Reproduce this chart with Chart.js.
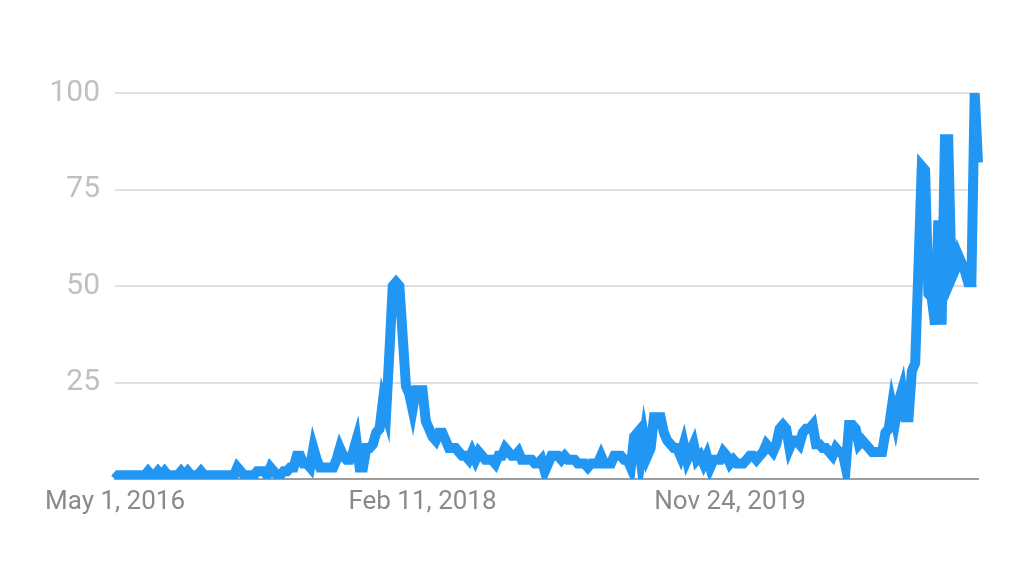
<!DOCTYPE html>
<html>
<head>
<meta charset="utf-8">
<script src="https://cdn.jsdelivr.net/npm/chart.js@4"></script>
<style>
  html, body { margin: 0; padding: 0; background: #fff; }
  #wrap { width: 1024px; height: 588px; }
</style>
</head>
<body>
<div id="wrap"><canvas id="myChart" width="1024" height="588"></canvas></div>
<script>
// weekly interest, starting week of May 1, 2016
let interest = [
  0, 1, 1, 1, 1, 1, 1, 1, 1, 1,
  2, 1, 1, 2, 1, 2, 1, 1, 1, 1,
  2, 1, 2, 1, 1, 1, 2, 1, 1, 1,
  1, 1, 1, 1, 1, 1, 1, 3, 2, 1,
  1, 1, 1, 2, 2, 2, 1, 3, 2, 1,
  1, 2, 2, 3, 3, 6, 6, 4, 4, 3,
  8, 5, 3, 3, 3, 3, 3, 5, 8, 6,
  5, 5, 7, 10, 3, 3, 8, 8, 9, 12,
  13, 20, 17, 33, 50, 51, 50, 37, 24, 22,
  18, 23, 23, 23, 15, 13, 11, 10, 12, 12,
  10, 8, 8, 8, 7, 6, 6, 5, 7, 5,
  7, 6, 5, 5, 5, 4, 6, 6, 8, 7,
  6, 6, 7, 5, 5, 5, 5, 4, 4, 5,
  2, 4, 6, 6, 6, 5, 6, 5, 5, 5,
  4, 4, 4, 3, 4, 4, 4, 6, 4, 4,
  4, 6, 6, 6, 5, 5, 3, 11, 12, 5,
  11, 6, 8, 16, 16, 16, 12, 10, 9, 8,
  8, 6, 9, 5, 7, 9, 5, 6, 4, 6,
  3, 5, 5, 5, 7, 6, 4, 5, 4, 4,
  4, 5, 6, 6, 5, 6, 7, 9, 8, 7,
  9, 13, 14, 13, 8, 10, 10, 9, 12, 13,
  13, 14, 9, 9, 8, 8, 7, 6, 8, 7,
  7, 3, 14, 14, 13, 9, 10, 9, 8, 7,
  7, 7, 7, 12, 13, 19, 15, 20, 23, 16,
  16, 28, 30, 55, 81, 80, 48, 47, 40, 67,
  40, 88, 88, 52, 54, 58, 56, 54, 51, 51,
  100, 82
];

let yTicks = [0, 25, 50, 75, 100];
let labelEvery = 93;

// week labels
let months = ["Jan","Feb","Mar","Apr","May","Jun","Jul","Aug","Sep","Oct","Nov","Dec"];
let weeks = [];
let d = new Date(2016, 4, 1);
for (let i = 0; i < interest.length; i++) {
  weeks.push(months[d.getMonth()] + " " + d.getDate() + ", " + d.getFullYear());
  d.setDate(d.getDate() + 7);
}

var ctx = document.getElementById('myChart').getContext('2d');
var chart = new Chart(ctx, {
  type: 'line',
  data: {
    labels: weeks,
    datasets: [{
      data: interest,
      borderColor: '#2196f3',
      borderWidth: 10,
      pointRadius: 0,
      tension: 0,
      fill: false
    }]
  },
  options: {
    responsive: false,
    animation: false,
    layout: { padding: { left: 0, right: 46, top: 93, bottom: 0 } },
    plugins: { legend: { display: false }, tooltip: { enabled: false } },
    scales: {
      x: {
        afterFit: function(axis) { axis.height = 109; },
        grid: { display: false, drawTicks: false },
        border: { display: true, color: '#9e9e9e', width: 2 },
        ticks: {
          autoSkip: false,
          maxRotation: 0,
          padding: 8,
          color: '#8a8a8a',
          font: { family: 'Roboto', size: 26 },
          callback: function(v, i) {
            return i % labelEvery === 0 ? this.getLabelForValue(v) : '';
          }
        }
      },
      y: {
        min: 0,
        max: 100,
        afterBuildTicks: function(axis) {
          axis.ticks = yTicks.map(function(v) { return { value: v }; });
        },
        afterFit: function(axis) { axis.width = 115; },
        grid: { color: '#e0e0e0', lineWidth: 2, drawTicks: false },
        border: { display: false },
        ticks: {
          padding: 15,
          color: '#c0c0c0',
          font: { family: 'Roboto', size: 30 },
          callback: function(v) { return v === 0 ? '' : v; }
        }
      }
    }
  }
});
</script>
</body>
</html>
